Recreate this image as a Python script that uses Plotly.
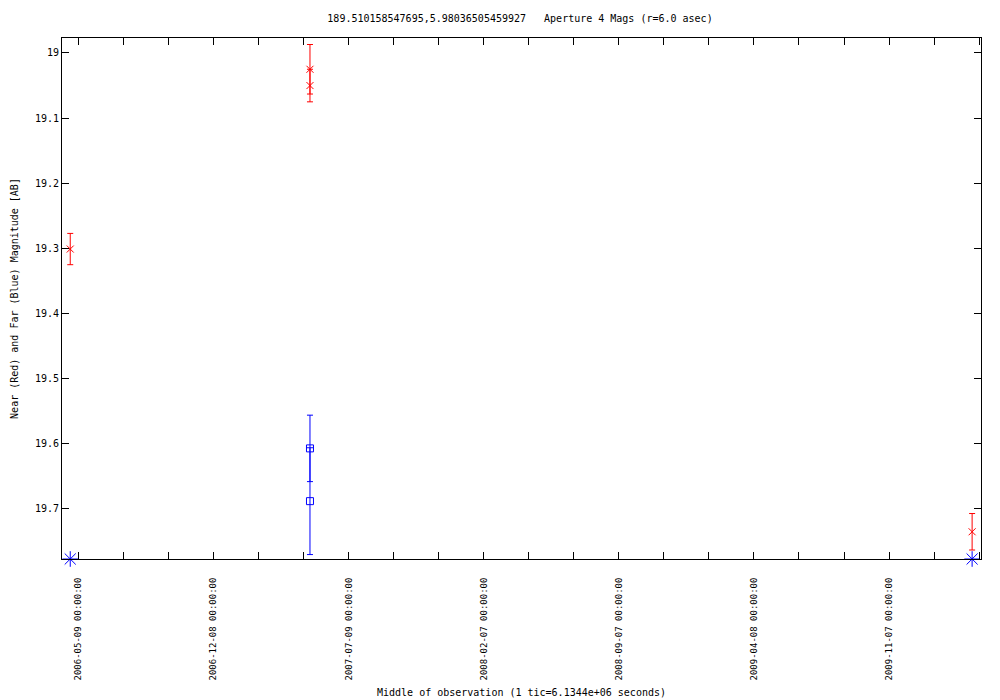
import plotly.graph_objects as go

# ---- data ----
near_dates = ["2006-04-26", "2007-05-09", "2007-05-09", "2010-03-18"]
near_mags = [19.301, 19.025, 19.050, 19.735]
near_errs = [0.024, 0.038, 0.025, 0.028]

far_dates = ["2007-05-09", "2007-05-09"]
far_mags = [19.607, 19.688]
far_errs = [0.051, 0.082]

edge_dates = ["2006-04-26", "2010-03-18"]
edge_mags = [19.7768, 19.7768]

x_tickvals = ["2006-05-09", "2006-12-08", "2007-07-09", "2008-02-07",
              "2008-09-07", "2009-04-08", "2009-11-07"]
x_ticktext = [d + " 00:00:00" for d in x_tickvals]

y_tickvals = [19.0, 19.1, 19.2, 19.3, 19.4, 19.5, 19.6, 19.7]
y_ticktext = ["19", "19.1", "19.2", "19.3", "19.4", "19.5", "19.6", "19.7"]

x_range = ["2006-04-13", "2010-04-01"]
y_range = [19.7768, 18.977]

FONT = "DejaVu Sans Mono"

fig = go.Figure()

fig.add_trace(go.Scatter(
    x=near_dates, y=near_mags, mode="markers", name="Near",
    marker=dict(symbol="x-thin-open", size=7, color="#ff0000",
                line=dict(color="#ff0000", width=1)),
    error_y=dict(type="data", array=near_errs, color="#ff0000",
                 thickness=1, width=3),
    cliponaxis=False,
))

fig.add_trace(go.Scatter(
    x=far_dates, y=far_mags, mode="markers", name="Far",
    marker=dict(symbol="square-open", size=7, color="#0000ff",
                line=dict(color="#0000ff", width=1)),
    error_y=dict(type="data", array=far_errs, color="#0000ff",
                 thickness=1, width=3),
    cliponaxis=False,
))

fig.add_trace(go.Scatter(
    x=edge_dates, y=edge_mags, mode="markers", name="Far (edge)",
    marker=dict(symbol="asterisk-open", size=13, color="#0000ff",
                line=dict(color="#0000ff", width=1)),
    cliponaxis=False,
))

fig.update_layout(
    width=1000, height=700,
    margin=dict(l=62, r=19, t=38, b=141),
    paper_bgcolor="white", plot_bgcolor="white",
    showlegend=False,
    font=dict(family=FONT, size=10, color="black"),
    title=dict(
        text="189.510158547695,5.98036505459927\u00a0\u00a0\u00a0Aperture 4 Mags (r=6.0 asec)",
        x=0.52, xanchor="center", y=0.974, yanchor="middle",
        font=dict(family=FONT, size=10, color="black"),
    ),
    xaxis=dict(
        type="date", range=x_range, automargin=False,
        tickmode="array", tickvals=x_tickvals, ticktext=x_ticktext,
        tickangle=-90, ticks="inside", ticklen=7, tickcolor="black",
        ticklabelstandoff=14,
        showline=True, linecolor="black", linewidth=1, mirror="allticks",
        showgrid=False, zeroline=False,
        minor=dict(tickmode="linear", tick0="2006-05-09",
                   dtick=6134400000, ticks="inside", ticklen=7,
                   tickcolor="black", showgrid=False),
        title=dict(text="Middle of observation (1 tic=6.1344e+06 seconds)",
                   font=dict(family=FONT, size=10), standoff=9),
        tickfont=dict(family=FONT, size=9),
    ),
    yaxis=dict(
        range=y_range, automargin=False,
        tickmode="array", tickvals=y_tickvals, ticktext=y_ticktext,
        ticks="inside", ticklen=7, tickcolor="black",
        showline=True, linecolor="black", linewidth=1, mirror="allticks",
        showgrid=False, zeroline=False,
        title=dict(text="Near (Red) and Far (Blue) Magnitude [AB]",
                   font=dict(family=FONT, size=10), standoff=14),
        tickfont=dict(family=FONT, size=10),
    ),
)

fig.write_html("out.html", config={"displayModeBar": False},
               post_script="document.body.style.margin='0';")
